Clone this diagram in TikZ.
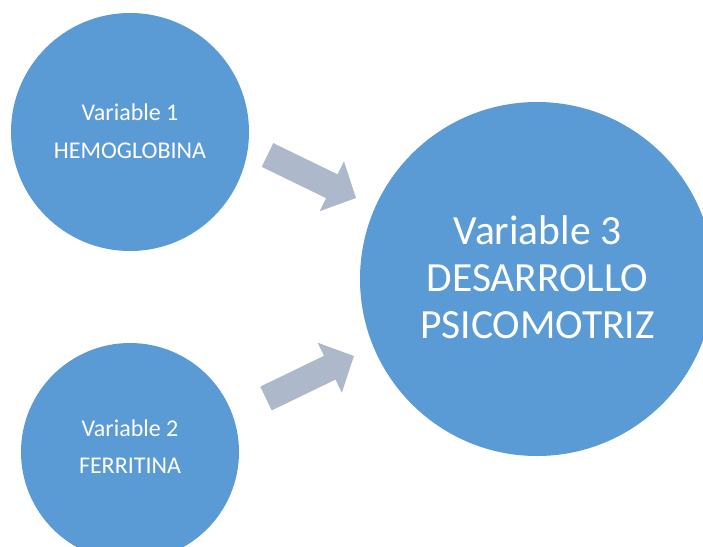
\documentclass[tikz,border=0pt]{standalone}
\usepackage{fontspec}
\setmainfont{Carlito}
\definecolor{circblue}{HTML}{5B9BD5}
\definecolor{arrowgray}{HTML}{ADB9CA}
\begin{document}
\begin{tikzpicture}[x=1pt,y=-1pt,
  bubble/.style={circle,fill=circblue,draw=none,inner sep=0pt},
  small/.style={text=white,font=\fontsize{24}{29}\selectfont,anchor=base,inner sep=0pt},
  big/.style={text=white,font=\fontsize{41.5}{50}\selectfont,anchor=base,inner sep=0pt},
  blockarrow/.style={fill=arrowgray,draw=none}]
\useasboundingbox (0,0) rectangle (703,546);
\clip (0,0) rectangle (703,546);
\node[bubble,minimum size=238pt] (c1) at (130,132) {};
\node[bubble,minimum size=218pt] (c2) at (130,452) {};
\node[bubble,minimum size=354pt] (c3) at (537,279) {};
\node[small] (t1a) at (130,120.7) {Variable 1};
\node[small] (t1b) at (130,158.3) {HEMOGLOBINA};
\node[small] (t2a) at (130,436) {Variable 2};
\node[small] (t2b) at (130,473) {FERRITINA};
\node[big] (t3a) at (537.5,244) {Variable 3};
\node[big] (t3b) at (537.5,291) {DESARROLLO};
\node[big] (t3c) at (537.5,338) {PSICOMOTRIZ};
\coordinate (a1) at (267.5,155);
\coordinate (a2) at (266,398.5);
\begin{scope}[shift={(a1)},rotate=-25.9]
  \fill[blockarrow] (0,-13.2) -- (71.5,-13.2) -- (71.5,-27.75) -- (98.4,0)
    -- (71.5,27.75) -- (71.5,13.2) -- (0,13.2) -- cycle;
\end{scope}
\begin{scope}[shift={(a2)},rotate=25.8]
  \fill[blockarrow] (0,-13.2) -- (70.8,-13.2) -- (70.8,-27.75) -- (97.7,0)
    -- (70.8,27.75) -- (70.8,13.2) -- (0,13.2) -- cycle;
\end{scope}
\end{tikzpicture}
\end{document}
